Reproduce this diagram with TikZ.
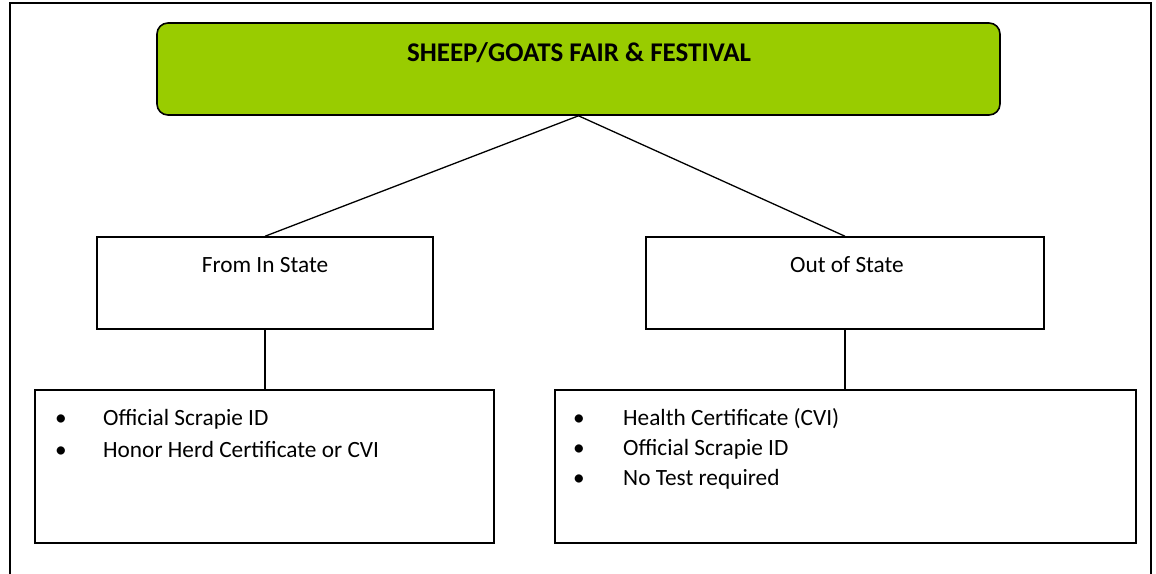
\documentclass[tikz,border=0pt]{standalone}
\usepackage{fontspec}
\setmainfont{Carlito}
\definecolor{limegreen}{HTML}{99CC00}
\begin{document}
\begin{tikzpicture}[x=1pt,y=-1pt,
  frame/.style={line width=1.6pt},
  topbox/.style={draw, line width=1.6pt, fill=limegreen, rounded corners=11pt, inner sep=0pt},
  plainbox/.style={draw, line width=1.5pt, fill=white, inner sep=0pt},
  conn/.style={line width=1.3pt},
  title/.style={font=\bfseries\fontsize{27}{32}\selectfont, anchor=base},
  label/.style={font=\fontsize{23.3}{28}\selectfont, anchor=base},
  item/.style={font=\fontsize{23.3}{28}\selectfont, anchor=base west, inner sep=0pt},
  bul/.style={font=\fontsize{23.3}{28}\selectfont, anchor=base, inner sep=0pt}]
\useasboundingbox (0,0) rectangle (1156,573);
\fill[white] (0,0) rectangle (1156,573);
\begin{scope}
\clip (0,0) rectangle (1156,573);
\draw[frame] (10,600) -- (10,3) -- (1151,3) -- (1151,600);
\end{scope}
% boxes
\node[topbox, minimum width=843pt, minimum height=92pt] (top) at (578.5,69) {};
\node[plainbox, minimum width=336pt, minimum height=92pt] (instate) at (265,283) {};
\node[plainbox, minimum width=398pt, minimum height=92pt] (outstate) at (845,283) {};
\node[plainbox, minimum width=459pt, minimum height=153pt] (inreq) at (264.5,466.5) {};
\node[plainbox, minimum width=581pt, minimum height=153pt] (outreq) at (845.5,466.5) {};
% connectors
\draw[conn] (top.south) -- (instate.north);
\draw[conn] (top.south) -- (outstate.north);
\draw[conn] (instate.south) -- (instate.south |- inreq.north);
\draw[conn] (outstate.south) -- (outstate.south |- outreq.north);
% texts
\node[title] (ttl) at (579,61) {SHEEP/GOATS FAIR \& FESTIVAL};
\node[label] (tin) at (265,272) {From In State};
\node[label] (tout) at (847,272) {Out of State};
\node[bul] (b1) at (61,425) {\textbullet};
\node[item] (i1) at (103,425) {Official Scrapie ID};
\node[bul] (b2) at (61,457) {\textbullet};
\node[item] (i2) at (103,457) {Honor Herd Certificate or CVI};
\node[bul] (b3) at (579,425) {\textbullet};
\node[item] (i3) at (623,425) {Health Certificate (CVI)};
\node[bul] (b4) at (579,455) {\textbullet};
\node[item] (i4) at (623,455) {Official Scrapie ID};
\node[bul] (b5) at (579,485) {\textbullet};
\node[item] (i5) at (623,485) {No Test required};
\end{tikzpicture}
\end{document}
